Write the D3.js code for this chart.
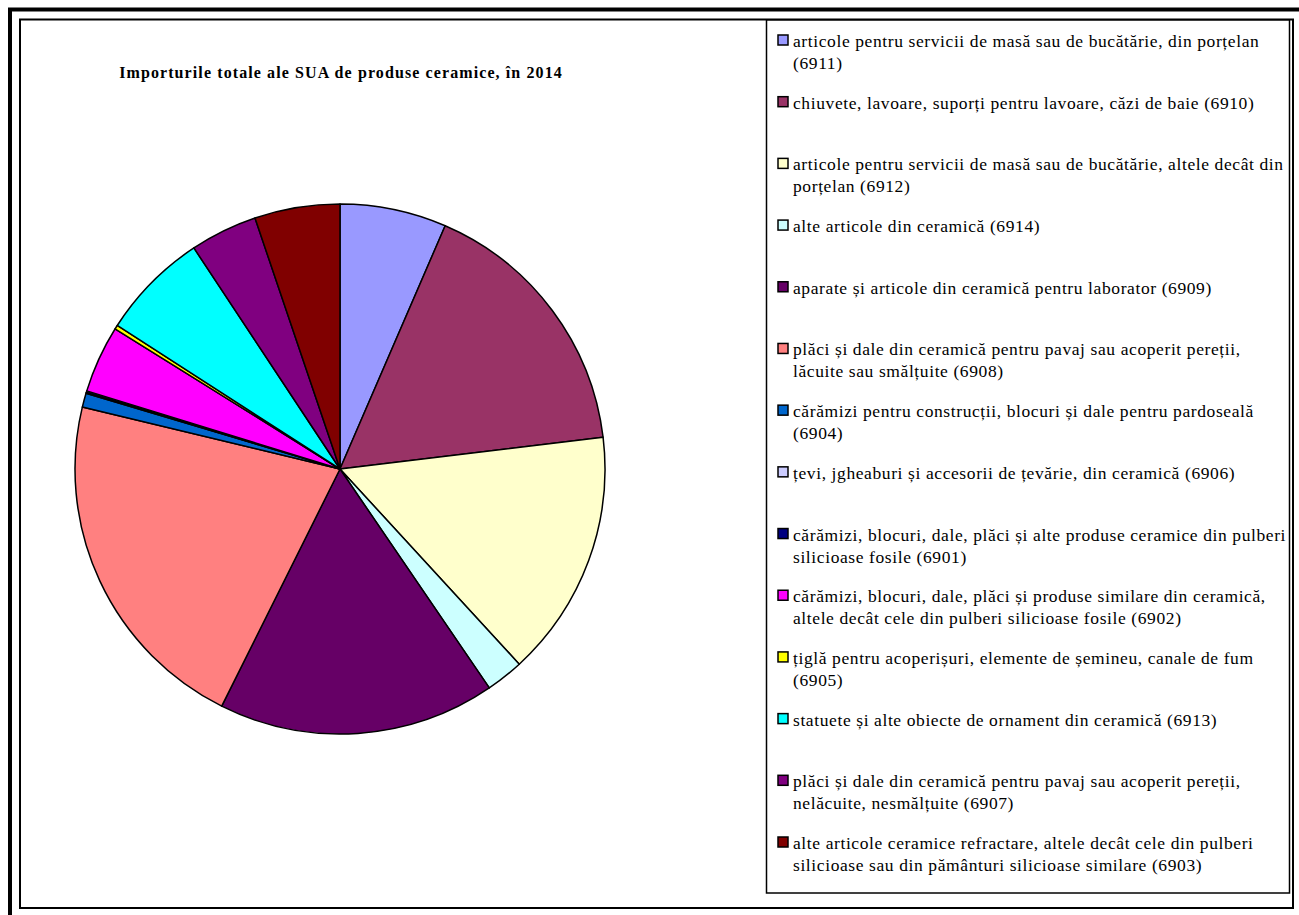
<!DOCTYPE html>
<html><head><meta charset="utf-8">
<script src="https://cdn.jsdelivr.net/npm/d3@7"></script>
<style>body{margin:0;background:#fff;} svg{display:block;}</style>
</head><body>
<svg id="c" width="1299" height="915"></svg>
<script>
const title = "Importurile totale ale SUA de produse ceramice, în 2014";
const categories = [
  "articole pentru servicii de masă sau de bucătărie, din porțelan (6911)",
  "chiuvete, lavoare, suporți pentru lavoare, căzi de baie (6910)",
  "articole pentru servicii de masă sau de bucătărie, altele decât din porțelan (6912)",
  "alte articole din ceramică (6914)",
  "aparate și articole din ceramică pentru laborator (6909)",
  "plăci și dale din ceramică pentru pavaj sau acoperit pereții, lăcuite sau smălțuite (6908)",
  "cărămizi pentru construcții, blocuri și dale pentru pardoseală (6904)",
  "țevi, jgheaburi și accesorii de țevărie, din ceramică (6906)",
  "cărămizi, blocuri, dale, plăci și alte produse ceramice din pulberi silicioase fosile (6901)",
  "cărămizi, blocuri, dale, plăci și produse similare din ceramică, altele decât cele din pulberi silicioase fosile (6902)",
  "țiglă pentru acoperișuri, elemente de șemineu, canale de fum (6905)",
  "statuete și alte obiecte de ornament din ceramică (6913)",
  "plăci și dale din ceramică pentru pavaj sau acoperit pereții, nelăcuite, nesmălțuite (6907)",
  "alte articole ceramice refractare, altele decât cele din pulberi silicioase sau din pământuri silicioase similare (6903)"
];
// legend text split into lines as displayed
const legendLines = [
  ["articole pentru servicii de masă sau de bucătărie, din porțelan", "(6911)"],
  ["chiuvete, lavoare, suporți pentru lavoare, căzi de baie (6910)"],
  ["articole pentru servicii de masă sau de bucătărie, altele decât din", "porțelan (6912)"],
  ["alte articole din ceramică (6914)"],
  ["aparate și articole din ceramică pentru laborator (6909)"],
  ["plăci și dale din ceramică pentru pavaj sau acoperit pereții,", "lăcuite sau smălțuite (6908)"],
  ["cărămizi pentru construcții, blocuri și dale pentru pardoseală", "(6904)"],
  ["țevi, jgheaburi și accesorii de țevărie, din ceramică (6906)"],
  ["cărămizi, blocuri, dale, plăci și alte produse ceramice din pulberi", "silicioase fosile (6901)"],
  ["cărămizi, blocuri, dale, plăci și produse similare din ceramică,", "altele decât cele din pulberi silicioase fosile (6902)"],
  ["țiglă pentru acoperișuri, elemente de șemineu, canale de fum", "(6905)"],
  ["statuete și alte obiecte de ornament din ceramică (6913)"],
  ["plăci și dale din ceramică pentru pavaj sau acoperit pereții,", "nelăcuite, nesmălțuite (6907)"],
  ["alte articole ceramice refractare, altele decât cele din pulberi", "silicioase sau din pământuri silicioase similare (6903)"]
];
const values = [6.5, 16.6, 15.1, 2.3, 16.9, 21.4, 0.86, 0.05, 0.1, 4.1, 0.25, 6.6, 4.1, 5.2];
const colors = ["#9999FF","#993366","#FFFFCC","#CCFFFF","#660066","#FF8080","#0066CC","#CCCCFF","#000080","#FF00FF","#FFFF00","#00FFFF","#800080","#800000"];

const svg = d3.select("#c");
// outer thick frame
svg.append("path").attr("d","M10,915 L10,9.5 L1299,9.5").attr("fill","none").attr("stroke","#000").attr("stroke-width",4);
// inner frame
svg.append("rect").attr("x",20).attr("y",19.5).attr("width",1273).attr("height",888.5)
  .attr("fill","#fff").attr("stroke","#000").attr("stroke-width",2);

// title
svg.append("text").attr("x",341).attr("y",78).attr("text-anchor","middle")
  .attr("font-family","Liberation Serif").attr("font-weight","bold").attr("font-size",16)
  .attr("letter-spacing",1.1)
  .text(title);

// pie
const cx = 340, cy = 469, r = 265;
const pie = d3.pie().sort(null).value(d => d)(values);
const arc = d3.arc().innerRadius(0).outerRadius(r);
const g = svg.append("g").attr("transform",`translate(${cx},${cy})`);
g.selectAll("path").data(pie).join("path")
  .attr("d", arc)
  .attr("fill", (d,i) => colors[i])
  .attr("stroke", "#000").attr("stroke-width", 1.5).attr("stroke-linejoin","round");

// legend
svg.append("rect").attr("x",766.5).attr("y",20).attr("width",523).attr("height",873)
  .attr("fill","#fff").attr("stroke","#000").attr("stroke-width",1.5);
const ly = d3.scalePoint().domain(d3.range(categories.length)).range([41, 843]);
const lg = svg.append("g");
legendLines.forEach((lines, i) => {
  const y = ly(i);
  lg.append("rect").attr("x",778).attr("y",y-6).attr("width",10).attr("height",10)
    .attr("fill",colors[i]).attr("stroke","#000").attr("stroke-width",1.5);
  const t = lg.append("text").attr("x",793).attr("y",y+6)
    .attr("font-family","Liberation Serif").attr("font-size",17.5).attr("letter-spacing",0.6).attr("fill","#000");
  lines.forEach((ln, k) => {
    t.append("tspan").attr("x",793).attr("dy", k===0 ? 0 : 22).text(ln);
  });
});
</script>
</body></html>
